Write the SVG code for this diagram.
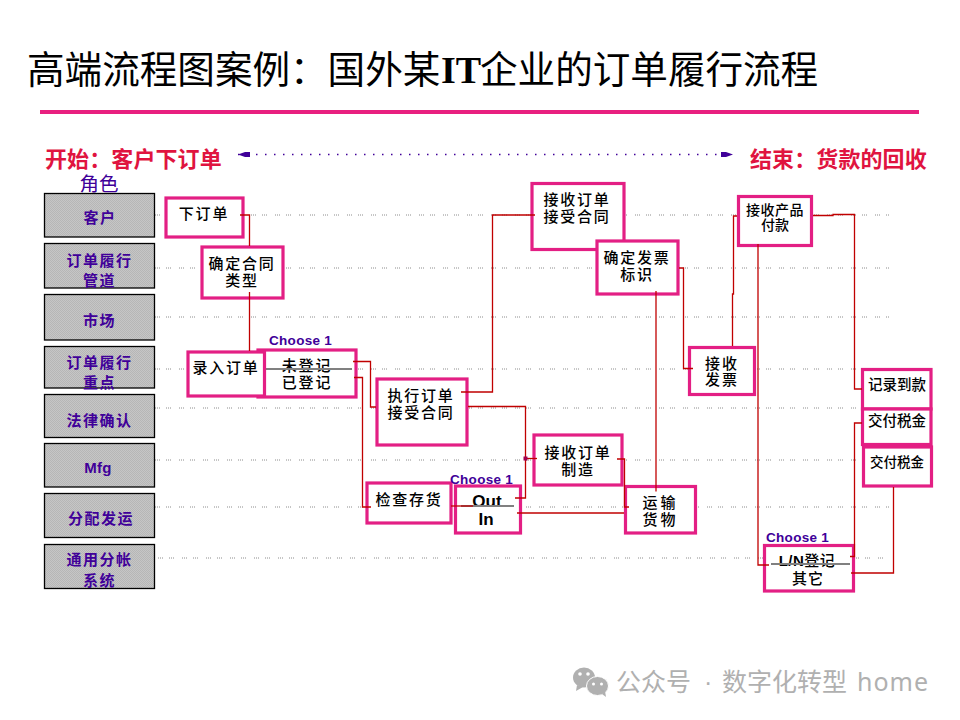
<svg xmlns="http://www.w3.org/2000/svg" width="960" height="720" viewBox="0 0 960 720">
<style>
text{font-family:"Liberation Sans","Noto Sans CJK SC",sans-serif}
.role rect{fill:url(#stipple);stroke:#000;stroke-width:1.3}
.role text{font-size:15px;font-weight:700;fill:#400099;text-anchor:middle;letter-spacing:1.5px}
.node rect{fill:#fff;stroke:#e31f84;stroke-width:3.2}
.node text{font-size:15px;font-weight:500;fill:#000;text-anchor:middle;letter-spacing:1.8px}
.lane{stroke:#8c8c8c;stroke-width:1;stroke-dasharray:1 1 1 1 1 6 1 1 1 1 1 8;fill:none}
.conn path{fill:none;stroke:#c00000;stroke-width:1.3}
.bar{stroke:#808080;stroke-width:2}
.choose{font-size:13.5px;font-weight:700;fill:#400099;letter-spacing:.3px}
.lat{font-weight:700}
.red{font-size:22px;font-weight:700;fill:#e0143f;letter-spacing:.1px}
.wm{font-size:25px;fill:#b0b0b0}
</style>
<defs>
<pattern id="stipple" width="2" height="2" patternUnits="userSpaceOnUse">
<rect width="2" height="2" fill="#c6c6c6"/>
<rect width="1" height="1" fill="#b6b6b6"/>
<rect x="1" y="1" width="1" height="1" fill="#b6b6b6"/>
</pattern>
<marker id="head" viewBox="0 0 12 8" refX="12" refY="4" markerWidth="12" markerHeight="8" markerUnits="userSpaceOnUse" orient="auto-start-reverse">
<path d="M0 1.5L5 1.5L12 4L5 6.5L0 6.5Z" fill="#400099"/>
</marker>
</defs>

<g id="title">
<text x="27" y="83" font-size="37.6" fill="#000">高端流程图案例：国外某</text>
<text x="441" y="83" font-size="38" font-weight="700" fill="#000" style="font-family:'Liberation Serif',serif">IT</text>
<text x="480" y="83" font-size="37.6" fill="#000">企业的订单履行流程</text>
<line x1="40" y1="112" x2="919" y2="112" stroke="#e8207f" stroke-width="4"/>
</g>

<g id="span">
<text class="red" x="45" y="167">开始：客户下订单</text>
<text class="red" x="750" y="167">结束：货款的回收</text>
<line x1="238" y1="154.5" x2="733" y2="154.5" stroke="#400099" stroke-width="1.3" stroke-dasharray="1.5 7.5" marker-start="url(#head)" marker-end="url(#head)"/>
<text x="99" y="191" font-size="19.5" fill="#400099" text-anchor="middle">角色</text>
</g>

<g id="lanes">
<line class="lane" x1="155" y1="215" x2="890" y2="215"/>
<line class="lane" x1="155" y1="268" x2="890" y2="268"/>
<line class="lane" x1="155" y1="317" x2="890" y2="317"/>
<line class="lane" x1="155" y1="369" x2="890" y2="369"/>
<line class="lane" x1="155" y1="408" x2="890" y2="408"/>
<line class="lane" x1="155" y1="460" x2="890" y2="460"/>
<line class="lane" x1="155" y1="507" x2="890" y2="507"/>
<line class="lane" x1="158" y1="558" x2="885" y2="558"/>
</g>

<g id="role-customer" class="role"><rect x="44.5" y="193.5" width="110" height="43.5"/><text x="100" y="223">客户</text></g>
<g id="role-channel" class="role"><rect x="44.5" y="243.5" width="110" height="44.5"/><text x="99.5" y="266">订单履行</text><text x="99.5" y="286">管道</text></g>
<g id="role-market" class="role"><rect x="44.5" y="294.5" width="110" height="45.5"/><text x="99.5" y="326">市场</text></g>
<g id="role-focus" class="role"><rect x="44.5" y="346.5" width="110" height="41.5"/><text x="99.5" y="368">订单履行</text><text x="99.5" y="388">重点</text></g>
<g id="role-legal" class="role"><rect x="44.5" y="394.5" width="110" height="43"/><text x="99.5" y="426">法律确认</text></g>
<g id="role-mfg" class="role"><rect x="44.5" y="443.5" width="110" height="43.5"/><text x="98" y="473" style="letter-spacing:.3px">Mfg</text></g>
<g id="role-dist" class="role"><rect x="44.5" y="493.5" width="110" height="44"/><text x="101" y="524">分配发运</text></g>
<g id="role-gl" class="role"><rect x="44.5" y="544.5" width="110" height="44"/><text x="99.5" y="565">通用分帐</text><text x="99.5" y="586">系统</text></g>

<g id="n-place-order" class="node"><rect x="166" y="198" width="77" height="39"/><text x="204" y="219">下订单</text></g>
<g id="n-contract-type" class="node"><rect x="202" y="247" width="81" height="51"/><text x="242" y="269">确定合同</text><text x="242" y="286">类型</text></g>
<g id="n-unregistered" class="node"><rect x="258" y="350" width="98" height="47"/><text x="307" y="371">未登记</text><text x="307" y="388">已登记</text><line class="bar" x1="263" y1="369" x2="352" y2="369"/></g>
<g id="n-enter-order" class="node"><rect x="188" y="352" width="76.500" height="44"/><text x="226" y="373">录入订单</text></g>
<g id="n-execute" class="node"><rect x="377" y="379" width="90" height="66"/><text x="421" y="401">执行订单</text><text x="421" y="418">接受合同</text></g>
<g id="n-receive-contract" class="node"><rect x="532" y="183.500" width="92" height="66"/><text x="577" y="205">接收订单</text><text x="577" y="222">接受合同</text></g>
<g id="n-invoice-id" class="node"><rect x="597" y="241" width="81" height="53"/><text x="637" y="263">确定发票</text><text x="637" y="280">标识</text></g>
<g id="n-check-stock" class="node"><rect x="367" y="483" width="84" height="40"/><text x="409" y="505">检查存货</text></g>
<g id="n-out-in" class="node"><rect x="455.500" y="486" width="65" height="47"/><text class="lat" x="487" y="507" style="font-size:17px;font-weight:700;letter-spacing:0">Out</text><text class="lat" x="486" y="525" style="font-size:17px;font-weight:700;letter-spacing:0">In</text><line class="bar" x1="461" y1="506" x2="514" y2="506"/></g>
<g id="n-receive-mfg" class="node"><rect x="534" y="435" width="88" height="50"/><text x="578" y="458">接收订单</text><text x="578" y="475">制造</text></g>
<g id="n-ship" class="node"><rect x="625.500" y="486.500" width="70" height="46.500"/><text x="660.500" y="508" style="letter-spacing:3px">运输</text><text x="660.500" y="525" style="letter-spacing:3px">货物</text></g>
<g id="n-receive-invoice" class="node"><rect x="689.500" y="347.500" width="65" height="47"/><text x="722" y="369" style="letter-spacing:2px">接收</text><text x="722" y="385" style="letter-spacing:2px">发票</text></g>
<g id="n-receive-product" class="node"><rect x="738.500" y="196.500" width="73" height="49"/><text x="775" y="215" style="letter-spacing:.5px;font-size:14px">接收产品</text><text x="775" y="230" style="letter-spacing:0;font-size:14px">付款</text></g>
<g id="n-record" class="node"><rect x="862.500" y="369.500" width="68.500" height="39.500"/><text x="897" y="390" style="letter-spacing:0;font-size:14.500px">记录到款</text></g>
<g id="n-tax1" class="node"><rect x="862.500" y="409" width="68.500" height="35.500"/><text x="897" y="426" style="letter-spacing:0;font-size:14.500px">交付税金</text></g>
<g id="n-tax2" class="node"><rect x="863.500" y="447" width="68" height="39"/><text x="897" y="467" style="letter-spacing:0;font-size:13.500px">交付税金</text></g>
<g id="n-ln" class="node"><rect x="764.500" y="545.500" width="89" height="45.500"/><text x="807" y="566" style="letter-spacing:.5px"><tspan class="lat">L/N</tspan>登记</text><text x="808" y="584" style="letter-spacing:1px">其它</text><line class="bar" x1="771" y1="564" x2="850" y2="564"/></g>

<g id="choose-labels">
<text class="choose" x="269" y="345">Choose 1</text>
<text class="choose" x="450" y="484">Choose 1</text>
<text class="choose" x="766" y="542">Choose 1</text>
</g>

<g id="connectors" class="conn">
<path d="M240 215H249.500V246"/>
<path d="M249.500 292V351"/>
<path d="M353 361.500H370.500V407H376"/>
<path d="M354 377.500H362.500V507H371"/>
<path d="M461 392H492.500V215H535"/>
<path d="M468 406.500H525.500V498H515"/>
<path d="M525.500 458.500H537"/>
<path d="M451 506H473"/>
<path d="M517 513H624"/>
<path d="M617 459H624.500V507H629"/>
<path d="M656 291V491.500"/>
<path d="M679 268H683.500V368.500H693"/>
<path d="M732.500 346V294H733.500V216H737"/>
<path d="M758 244V565H769"/>
<path d="M813 215.500H833V214.500H854.500V389H862"/>
<path d="M850 556.500H854.500V423H862"/>
<path d="M851 573H893.500V487"/>
<rect x="523.500" y="456.500" width="4" height="4" fill="#a00050"/>
</g>

<g id="watermark">
<ellipse cx="584" cy="677.500" rx="11" ry="10" fill="#b0b0b0"/>
<path d="M577 685L576 691L583 687Z" fill="#b0b0b0"/>
<ellipse cx="597.500" cy="686" rx="11" ry="9.500" fill="#b0b0b0" stroke="#fff" stroke-width="1"/>
<path d="M602 694L606 697L605 691Z" fill="#b0b0b0"/>
<circle cx="580" cy="674" r="1.800" fill="#fff"/><circle cx="588" cy="674" r="1.800" fill="#fff"/>
<circle cx="593.500" cy="684" r="1.500" fill="#fff"/><circle cx="601.500" cy="684" r="1.500" fill="#fff"/>
<text class="wm" x="616" y="691">公众号</text>
<text class="wm" x="704" y="691">·</text>
<text class="wm" x="722" y="691">数字化转型</text>
<text class="wm" x="857" y="691" style="font-family:'Noto Sans',sans-serif;letter-spacing:1px">home</text>
</g>
</svg>
